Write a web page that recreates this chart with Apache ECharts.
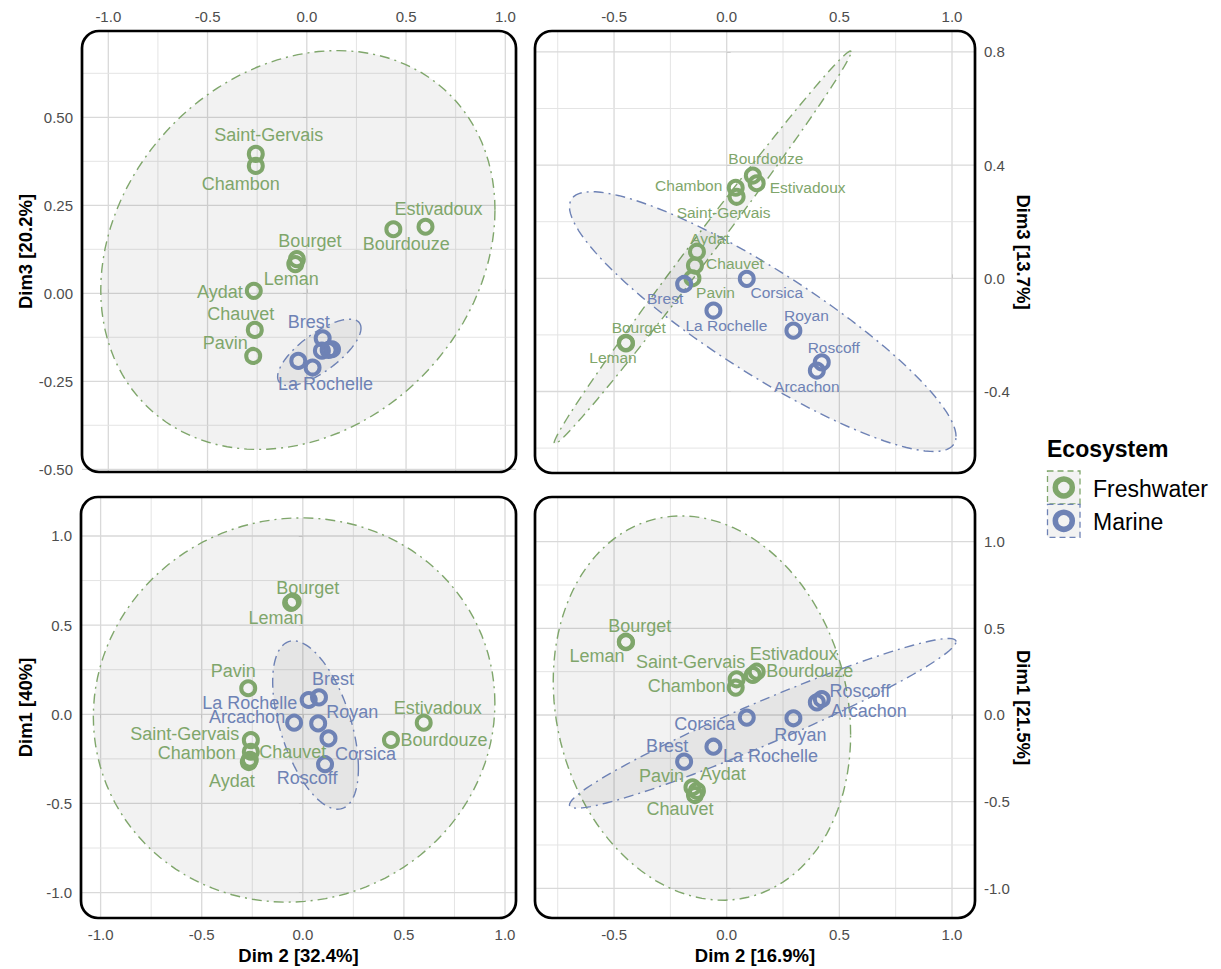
<!DOCTYPE html>
<html>
<head>
<meta charset="utf-8">
<script src="https://cdn.jsdelivr.net/npm/echarts@6/dist/echarts.min.js"></script>
<style>
html,body{margin:0;padding:0;background:#ffffff;}
#chart{width:1221px;height:969px;}
</style>
</head>
<body>
<div id="chart"></div>
<script>
// ---------------- DATA ----------------
const sites = ['Saint-Gervais','Chambon','Estivadoux','Bourdouze','Bourget','Leman','Aydat','Chauvet','Pavin',
               'Brest','La Rochelle','Arcachon','Royan','Corsica','Roscoff'];
const ecosystem = ['Freshwater','Freshwater','Freshwater','Freshwater','Freshwater','Freshwater','Freshwater','Freshwater','Freshwater',
                   'Marine','Marine','Marine','Marine','Marine','Marine'];
const groups = ['Freshwater','Marine'];

// Analysis A (left column)
const dimA1 = [-0.145,-0.210,-0.047,-0.144, 0.632, 0.625,-0.268,-0.255, 0.146, 0.095, 0.080,-0.047,-0.051,-0.135,-0.280]; // Dim1 [40%]
const dimA2 = [-0.257,-0.257, 0.598, 0.436,-0.050,-0.058,-0.267,-0.262,-0.270, 0.080, 0.029,-0.043, 0.076, 0.127, 0.110]; // Dim 2 [32.4%]
const dimA3 = [ 0.396, 0.362, 0.189, 0.182, 0.097, 0.083, 0.007,-0.104,-0.178,-0.128,-0.211,-0.192,-0.163,-0.159,-0.161]; // Dim3 [20.2%]

// Analysis B (right column)
const dimB1 = [ 0.206, 0.158, 0.250, 0.231, 0.423, 0.420,-0.438,-0.462,-0.417,-0.269,-0.183, 0.073,-0.019,-0.015, 0.092]; // Dim1 [21.5%]
const dimB2 = [ 0.044, 0.040, 0.133, 0.116,-0.448,-0.447,-0.132,-0.141,-0.152,-0.189,-0.059, 0.400, 0.296, 0.089, 0.422]; // Dim 2 [16.9%]
const dimB3 = [ 0.288, 0.320, 0.336, 0.363,-0.228,-0.230, 0.094, 0.045, 0.000,-0.020,-0.114,-0.326,-0.185,-0.002,-0.297]; // Dim3 [13.7%]

// Confidence ellipses per group: [centerX, centerY, axis1X, axis1Y, axis2X, axis2Y] (data units)
const ellipseA2A3 = [[-0.045, 0.123, 0.993, 0.114, 0, 0.555], [0.063,-0.168, 0.210, 0.069, 0, 0.0645]];
const ellipseB2B3 = [[-0.107, 0.109, 0.659, 0.691, 0, 0.066], [0.160,-0.153, 0.858,-0.406, 0, 0.214]];
const ellipseA2A1 = [[-0.043, 0.024, 0.993, 0.038, 0, 1.077], [0.063,-0.060, 0.212,-0.243, 0, 0.405]];
const ellipseB2B1 = [[-0.110, 0.040, 0.660,-0.154, 0, 1.098], [0.160,-0.048, 0.858, 0.471, 0, 0.134]];

// Tick values
const ticksA2 = [-1, -0.5, 0, 0.5, 1];
const minorA2 = [-0.75, -0.25, 0.25, 0.75];
const ticksA3 = [-0.5, -0.25, 0, 0.25, 0.5];
const minorA3 = [-0.375, -0.125, 0.125, 0.375, 0.625];
const ticksA1 = [-1, -0.5, 0, 0.5, 1];
const minorA1 = [-0.75, -0.25, 0.25, 0.75];
const ticksB2 = [-0.5, 0, 0.5, 1];
const minorB2 = [-0.75, -0.25, 0.25, 0.75];
const ticksB3 = [-0.4, 0, 0.4, 0.8];
const minorB3 = [-0.6, -0.2, 0.2, 0.6];
const ticksB1 = [-1, -0.5, 0, 0.5, 1];
const minorB1 = [-0.75, -0.25, 0.25, 0.75];

// ---------------- STYLE / LAYOUT ----------------
const FONT = "'Liberation Sans', Arial, Helvetica, sans-serif";
const COLORS = { Freshwater: '#7fa66b', Marine: '#6e82b5' };

// label offsets (px) from point centre, per panel; absent = no label
const labelTL = {'Saint-Gervais':[13,-19],'Chambon':[-15,18],'Estivadoux':[13,-18],'Bourdouze':[13,15],'Bourget':[13,-18],
  'Leman':[-4,15],'Aydat':[-34,1],'Chauvet':[-14,-16],'Pavin':[-28,-13],'Brest':[-14,-16],'La Rochelle':[13,16]};
const labelTR = {'Bourdouze':[13,-17],'Chambon':[-47,-2],'Estivadoux':[51,4],'Saint-Gervais':[-13,16],'Aydat':[13,-13],
  'Chauvet':[40,-2],'Pavin':[23,14],'Brest':[-19,15],'Corsica':[30,14],'La Rochelle':[13,15],'Royan':[13,-15],
  'Roscoff':[12,-15],'Arcachon':[-10,16],'Bourget':[13,-15],'Leman':[-13,14]};
const labelBL = {'Bourget':[15,-14],'Leman':[-15,15],'Pavin':[-15,-17],'Brest':[14,-18],'La Rochelle':[-59,3],
  'Arcachon':[-47,-6],'Royan':[34,-11],'Corsica':[37,16],'Roscoff':[-18,14],'Estivadoux':[14,-15],'Bourdouze':[53,0],
  'Saint-Gervais':[-66,-6],'Chambon':[-54,1],'Chauvet':[43,-8],'Aydat':[-17,19]};
const labelBR = {'Bourget':[14,-16],'Leman':[-29,14],'Saint-Gervais':[-46,-17],'Chambon':[-49,-2],'Estivadoux':[37,-18],
  'Bourdouze':[57,-4],'Roscoff':[38,-8],'Arcachon':[52,9],'Corsica':[-42,6],'Royan':[7,17],'La Rochelle':[57,9],
  'Brest':[-17,-16],'Pavin':[-31,-11],'Aydat':[26,-17],'Chauvet':[-15,14]};

const panels = [
  { grid:{left:82, top:31, width:434, height:441}, x:dimA2, y:dimA3, xRange:[-1.1325,1.0539], yRange:[-0.5077,0.7452],
    xTicks:ticksA2, xMinor:minorA2, yTicks:ticksA3, yMinor:minorA3, xDec:1, yDec:2, xPos:'top', yPos:'left',
    xName:'', yName:'Dim3 [20.2%]', ell:ellipseA2A3, labels:labelTL, labelSize:18 },
  { grid:{left:535, top:31, width:440, height:442}, x:dimB2, y:dimB3, xRange:[-0.8509,1.1021], yRange:[-0.688,0.8739],
    xTicks:ticksB2, xMinor:minorB2, yTicks:ticksB3, yMinor:minorB3, xDec:1, yDec:1, xPos:'top', yPos:'right',
    xName:'', yName:'Dim3 [13.7%]', ell:ellipseB2B3, labels:labelTR, labelSize:15.5 },
  { grid:{left:81, top:497, width:435, height:421}, x:dimA2, y:dimA1, xRange:[-1.097,1.0544], yRange:[-1.1425,1.2187],
    xTicks:ticksA2, xMinor:minorA2, yTicks:ticksA1, yMinor:minorA1, xDec:1, yDec:1, xPos:'bottom', yPos:'left',
    xName:'Dim 2 [32.4%]', yName:'Dim1 [40%]', ell:ellipseA2A1, labels:labelBL, labelSize:18 },
  { grid:{left:535, top:497, width:440, height:421}, x:dimB2, y:dimB1, xRange:[-0.8509,1.1021], yRange:[-1.1714,1.2579],
    xTicks:ticksB2, xMinor:minorB2, yTicks:ticksB1, yMinor:minorB1, xDec:1, yDec:1, xPos:'bottom', yPos:'right',
    xName:'Dim 2 [16.9%]', yName:'Dim1 [21.5%]', ell:ellipseB2B1, labels:labelBR, labelSize:18 }
];

function isTick(v, list){ return list.some(t => Math.abs(t - v) < 1e-6); }

const grids = [], xAxes = [], yAxes = [], series = [], graphics = [];

panels.forEach((p, i) => {
  grids.push(Object.assign({containLabel:false}, p.grid));
  const nameStyle = {color:'#000', fontSize:18.5, fontWeight:'bold', fontFamily:FONT};
  xAxes.push({
    type:'value', gridIndex:i, min:p.xRange[0], max:p.xRange[1], position:p.xPos,
    axisLine:{show:false}, splitLine:{show:false}, minorSplitLine:{show:false},
    axisTick:{show:true, customValues:p.xTicks, length:4, lineStyle:{color:'#cccccc', width:1}},
    axisLabel:{customValues:p.xTicks, color:'#4d4d4d', fontSize:15, fontFamily:FONT, margin: p.xPos==='top'?7:9,
      formatter: v => isTick(v, p.xTicks) ? v.toFixed(p.xDec) : ''},
    name:p.xName, nameLocation:'middle', nameGap:28, nameTextStyle:nameStyle
  });
  yAxes.push({
    type:'value', gridIndex:i, min:p.yRange[0], max:p.yRange[1], position:p.yPos,
    axisLine:{show:false}, splitLine:{show:false}, minorSplitLine:{show:false},
    axisTick:{show:true, customValues:p.yTicks, length:4, lineStyle:{color:'#cccccc', width:1}},
    axisLabel:{customValues:p.yTicks, color:'#4d4d4d', fontSize:15, fontFamily:FONT, margin:9,
      formatter: v => isTick(v, p.yTicks) ? v.toFixed(p.yDec) : ''},
    name:p.yName, nameLocation:'middle', nameRotate: p.yPos==='left'?90:-90,
    nameGap: p.yPos==='left'?46:35, nameTextStyle:nameStyle
  });

  // grid lines drawn through the axes' scales
  const gl = [];
  p.xTicks.forEach(v => gl.push([v, 0, 1]));
  p.xMinor.forEach(v => gl.push([v, 0, 0]));
  p.yTicks.forEach(v => gl.push([v, 1, 1]));
  p.yMinor.forEach(v => gl.push([v, 1, 0]));
  series.push({
    type:'custom', xAxisIndex:i, yAxisIndex:i, silent:true, z:0, clip:true,
    encode:{x:0, y:0},
    data: gl,
    renderItem: (params, api) => {
      const v = api.value(0), o = api.value(1), m = api.value(2);
      let a, b;
      if (o === 0) { a = api.coord([v, p.yRange[0]]); b = api.coord([v, p.yRange[1]]); }
      else { a = api.coord([p.xRange[0], v]); b = api.coord([p.xRange[1], v]); }
      return {type:'line', shape:{x1:a[0], y1:a[1], x2:b[0], y2:b[1]},
        style:{stroke: m ? '#d9d9d9' : '#e4e4e4', lineWidth: m ? 1.3 : 1}};
    }
  });

  // ellipses
  series.push({
    type:'custom', xAxisIndex:i, yAxisIndex:i, silent:true, z:1, clip:true,
    encode:{x:0, y:1},
    data: p.ell.map((e, gi) => e.concat([gi])),
    renderItem: (params, api) => {
      const cx = api.value(0), cy = api.value(1), ax = api.value(2), ay = api.value(3),
            bx = api.value(4), by = api.value(5), gi = api.value(6);
      const pts = [];
      const N = 120;
      for (let k = 0; k < N; k++) {
        const t = 2 * Math.PI * k / N;
        pts.push(api.coord([cx + ax * Math.cos(t) + bx * Math.sin(t), cy + ay * Math.cos(t) + by * Math.sin(t)]));
      }
      return {type:'polygon', shape:{points:pts},
        style:{fill:'rgba(0,0,0,0.05)', stroke: COLORS[groups[gi]], lineWidth:1.4, lineDash:[10,5,2,5]}};
    }
  });

  // points
  groups.forEach(g => {
    const data = [];
    sites.forEach((s, k) => {
      if (ecosystem[k] !== g) return;
      const off = p.labels[s];
      data.push({name:s, value:[p.x[k], p.y[k]],
        label:{show: !!off, offset: off || [0,0]}});
    });
    series.push({
      type:'scatter', name:g, xAxisIndex:i, yAxisIndex:i, z:3,
      symbol:'circle', symbolSize:14,
      itemStyle:{color:'rgba(0,0,0,0)', borderColor:COLORS[g], borderWidth:4, opacity:1},
      label:{position:'inside', align:'center', verticalAlign:'middle', formatter:'{b}',
        color:COLORS[g], fontSize:p.labelSize, fontFamily:FONT},
      emphasis:{disabled:true},
      data: data
    });
  });

  // rounded panel frame
  graphics.push({type:'rect', z:100, silent:true,
    shape:{x:p.grid.left, y:p.grid.top, width:p.grid.width, height:p.grid.height, r:17},
    style:{fill:'none', stroke:'#000', lineWidth:2.7}});
});

// legend
graphics.push({type:'text', x:1047, y:449, z:100,
  style:{text:'Ecosystem', fontSize:23, fontWeight:'bold', fontFamily:FONT, fill:'#000', align:'left', verticalAlign:'middle'}});
groups.forEach((g, k) => {
  const y0 = 471 + k * 33.3;
  graphics.push({type:'rect', z:100, shape:{x:1047.5, y:y0, width:32.5, height:33},
    style:{fill:'#f2f2f2', stroke:COLORS[g], lineWidth:1.3, lineDash:[6,4]}});
  graphics.push({type:'circle', z:101, shape:{cx:1063.8, cy:y0 + 16.5, r:8.5},
    style:{fill:'none', stroke:COLORS[g], lineWidth:5.5}});
  graphics.push({type:'text', x:1093, y:y0 + 17.5, z:101,
    style:{text:g, fontSize:23, fontFamily:FONT, fill:'#000', align:'left', verticalAlign:'middle'}});
});

const chart = echarts.init(document.getElementById('chart'), null, {renderer:'svg', width:1221, height:969});
chart.setOption({
  animation:false,
  backgroundColor:'#ffffff',
  grid:grids, xAxis:xAxes, yAxis:yAxes, series:series, graphic:graphics
});
</script>
</body>
</html>
